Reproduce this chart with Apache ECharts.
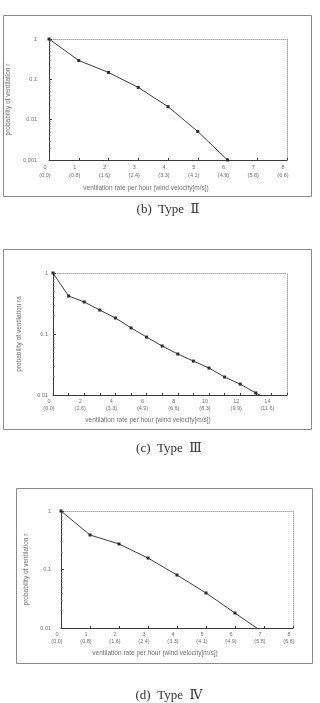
<!DOCTYPE html>
<html>
<head>
<meta charset="utf-8">
<script src="https://cdn.jsdelivr.net/npm/echarts@6/dist/echarts.min.js"></script>
<style>
html, body { margin: 0; padding: 0; background: #fff; }
#chart { width: 320px; height: 703px; }
</style>
</head>
<body>
<div id="chart"></div>
<script>
// (b) Type II
const rateB = [0, 1, 2, 3, 4, 5, 6]
const probB = [1, 0.293, 0.148, 0.063, 0.021, 0.0051, 0.001]
const windB = ['(0.0)', '(0.8)', '(1.6)', '(2.4)', '(3.3)', '(4.1)', '(4.9)', '(5.8)', '(6.6)']

// (c) Type III
const rateC = [0, 1, 2, 3, 4, 5, 6, 7, 8, 9, 10, 11, 12, 13, 14]
const probC = [1, 0.42, 0.335, 0.247, 0.183, 0.126, 0.089, 0.0636, 0.047, 0.036, 0.0277, 0.0197, 0.0151, 0.0108, 0.0078]
const windC = ['(0.0)', '(1.6)', '(3.3)', '(4.9)', '(6.6)', '(8.3)', '(9.9)', '(11.6)']

// (d) Type IV
const rateD = [0, 1, 2, 3, 4, 5, 6, 7]
const probD = [1, 0.389, 0.273, 0.157, 0.0805, 0.0397, 0.018, 0.0082]
const windD = ['(0.0)', '(0.8)', '(1.6)', '(2.4)', '(3.3)', '(4.1)', '(4.9)', '(5.8)', '(6.6)']

const xName = 'ventilation rate per hour (wind velocity[m/s])'
const textGray = '#6f6f6f'
const axisDark = '#3a3a3a'
const frameGray = '#a8a8a8'
const captionFont = '13px "Liberation Serif", "DejaVu Serif", serif'

const chart = echarts.init(document.getElementById('chart'))

const grids = [
  { left: 49, top: 39, width: 238, height: 121 },
  { left: 53, top: 273, width: 234, height: 122 },
  { left: 61, top: 511, width: 232, height: 117 }
]

function bottomAxis (i, max, fmt, nameGap, lineHeight) {
  return {
    gridIndex: i,
    type: 'value',
    min: 0,
    max: max,
    interval: 1,
    axisLine: { show: true, lineStyle: { color: axisDark, width: 1 } },
    axisTick: { show: true, inside: true, length: 2, lineStyle: { color: axisDark } },
    splitLine: { show: false },
    axisLabel: {
      color: textGray,
      fontSize: 5.5,
      lineHeight: lineHeight,
      margin: 3,
      padding: [0, 8, 0, 0],
      showMaxLabel: true,
      formatter: fmt
    },
    name: xName,
    nameLocation: 'middle',
    nameGap: nameGap,
    nameTextStyle: { color: textGray, fontSize: 6.5, padding: [0, 44, 0, 0] }
  }
}

// plain frame lines for the top and right side of each plot
function frameAxis (i, pos) {
  return {
    gridIndex: i,
    type: 'value',
    position: pos,
    min: 0,
    max: 1,
    axisLine: { show: true, onZero: false, lineStyle: { color: frameGray, type: 'dotted', width: 1 } },
    axisTick: { show: false },
    axisLabel: { show: false },
    splitLine: { show: false }
  }
}

function leftAxis (i, min, nameGap, name, margin) {
  return {
    gridIndex: i,
    type: 'log',
    logBase: 10,
    min: min,
    max: 1,
    axisLine: { show: true, lineStyle: { color: axisDark, width: 1 } },
    axisTick: { show: true, inside: true, length: 3, lineStyle: { color: axisDark } },
    minorTick: { show: true, splitNumber: 9, length: 1.5, lineStyle: { color: '#666' } },
    splitLine: { show: false },
    axisLabel: {
      color: textGray,
      fontSize: 5.5,
      margin: margin,
      formatter: v => String(+v.toPrecision(3))
    },
    name: name,
    nameLocation: 'middle',
    nameGap: nameGap,
    nameTextStyle: { color: textGray, fontSize: 6.5 }
  }
}

function lineSeries (xi, yi, xs, ys) {
  return {
    type: 'line',
    xAxisIndex: xi,
    yAxisIndex: yi,
    data: xs.map((x, k) => [x, ys[k]]),
    symbol: 'rect',
    symbolSize: 3,
    clip: true,
    lineStyle: { color: '#3c3c3c', width: 1 },
    itemStyle: { color: '#2c2c2c' },
    animation: false
  }
}

const option = {
  animation: false,
  backgroundColor: '#fff',
  grid: grids.map(g => Object.assign({ outerBoundsMode: 'none', containLabel: false }, g)),
  xAxis: [
    bottomAxis(0, 8, v => v + '\n' + windB[v], 25, 8),
    bottomAxis(1, 15, v => (v % 2 === 0 && v <= 14) ? v + '\n' + windC[v / 2] : '', 22, 7),
    bottomAxis(2, 8, v => v + '\n' + windD[v], 22, 7),
    frameAxis(0, 'top'),
    frameAxis(1, 'top'),
    frameAxis(2, 'top')
  ],
  yAxis: [
    leftAxis(0, 0.001, 37, 'probability of ventilation r', 12),
    leftAxis(1, 0.01, 30, 'probability of ventilation ra', 5),
    leftAxis(2, 0.01, 24, 'probability of ventilation r', 10),
    frameAxis(0, 'right'),
    frameAxis(1, 'right'),
    frameAxis(2, 'right')
  ],
  series: [
    lineSeries(0, 0, rateB, probB),
    lineSeries(1, 1, rateC, probC),
    lineSeries(2, 2, rateD, probD)
  ],
  graphic: [
    { type: 'rect', shape: { x: 3.5, y: 15.5, width: 308, height: 181 }, style: { fill: null, stroke: '#8a8a8a', lineWidth: 1 }, z: -1 },
    { type: 'rect', shape: { x: 3.5, y: 249.5, width: 308, height: 180 }, style: { fill: null, stroke: '#8a8a8a', lineWidth: 1 }, z: -1 },
    { type: 'rect', shape: { x: 16.5, y: 488.5, width: 296, height: 175 }, style: { fill: null, stroke: '#8a8a8a', lineWidth: 1 }, z: -1 },
    { type: 'text', x: 168, y: 210, style: { text: '(b)  Type  Ⅱ', font: captionFont, align: 'center', verticalAlign: 'middle', fill: '#333' } },
    { type: 'text', x: 169, y: 449, style: { text: '(c)  Type  Ⅲ', font: captionFont, align: 'center', verticalAlign: 'middle', fill: '#333' } },
    { type: 'text', x: 169, y: 696, style: { text: '(d)  Type  Ⅳ', font: captionFont, align: 'center', verticalAlign: 'middle', fill: '#333' } }
  ]
}

chart.setOption(option)
</script>
</body>
</html>
